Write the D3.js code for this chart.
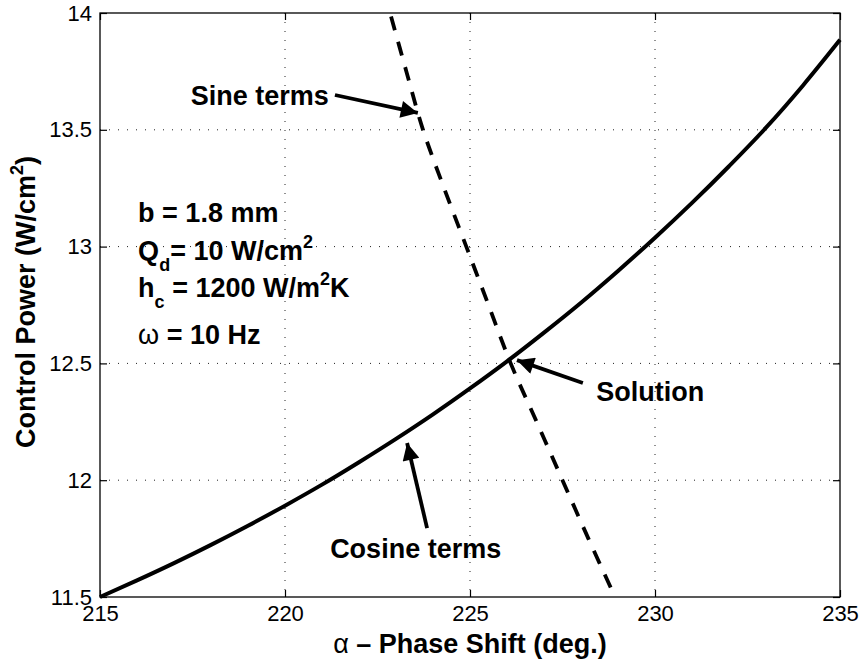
<!DOCTYPE html>
<html>
<head>
<meta charset="utf-8">
<script src="https://cdn.jsdelivr.net/npm/d3@7"></script>
<style>
body { margin: 0; background: #fff; }
text { font-family: "Liberation Sans", Arial, Helvetica, sans-serif; fill: #000; }
</style>
</head>
<body>
<div id="chart"></div>
<script>
// cosine-terms curve (solid)
const phase = [215, 216, 217, 218, 219, 220, 221, 222, 223, 224, 225, 226, 227, 228, 229, 230, 231, 232, 233, 234, 235];
const cosinePower = [11.500, 11.571, 11.645, 11.723, 11.805, 11.891, 11.981, 12.077, 12.177, 12.282, 12.393, 12.509, 12.632, 12.760, 12.896, 13.038, 13.187, 13.344, 13.509, 13.690, 13.885];

// sine-terms curve (dashed)
const sinePhase = [222.84, 223.28, 223.73, 224.30, 224.90, 225.50, 226.10, 226.80, 227.50, 228.20, 228.92];
const sinePower = [14.0, 13.75, 13.5, 13.25, 13.0, 12.75, 12.5, 12.25, 12.0, 11.75, 11.5];

const xTicks = [215, 220, 225, 230, 235];
const yTicks = [11.5, 12, 12.5, 13, 13.5, 14];

// annotations, in data units: [textX, textY, tailX, tailY, tipX, tipY]
const annoLabels = ["Sine terms", "Solution", "Cosine terms"];
const annoPos = [
  [217.45, 13.606, 221.35, 13.649, 223.59, 13.572],
  [228.41, 12.339, 228.05, 12.416, 226.27, 12.514],
  [221.22, 11.667, 223.84, 11.795, 223.30, 12.159]
];

const W = 863, H = 669;
const margin = {top: 13, right: 23, bottom: 72, left: 100};
const w = W - margin.left - margin.right;
const h = H - margin.top - margin.bottom;

const svg = d3.select("#chart").append("svg")
    .attr("width", W)
    .attr("height", H);
const g = svg.append("g")
    .attr("transform", `translate(${margin.left}, ${margin.top})`);

const x = d3.scaleLinear().domain([215, 235]).range([0, w]);
const y = d3.scaleLinear().domain([11.5, 14]).range([h, 0]);

// dotted grid
g.append("g").selectAll("line")
    .data(xTicks.slice(1, -1))
    .enter().append("line")
    .attr("x1", d => x(d)).attr("x2", d => x(d))
    .attr("y1", 0).attr("y2", h)
    .attr("stroke", "#222").attr("stroke-width", 1)
    .attr("stroke-dasharray", "1,8");
g.append("g").selectAll("line")
    .data(yTicks.slice(1, -1))
    .enter().append("line")
    .attr("y1", d => y(d)).attr("y2", d => y(d))
    .attr("x1", 0).attr("x2", w)
    .attr("stroke", "#222").attr("stroke-width", 1)
    .attr("stroke-dasharray", "1,8");

// curves
const cosLine = d3.line()
    .x((d, i) => x(phase[i]))
    .y(d => y(d))
    .curve(d3.curveMonotoneX);
g.append("path")
    .attr("d", cosLine(cosinePower))
    .attr("fill", "none")
    .attr("stroke", "#000")
    .attr("stroke-width", 4);

const sinLine = d3.line()
    .x((d, i) => x(sinePhase[i]))
    .y(d => y(d))
    .curve(d3.curveCatmullRom);
g.append("path")
    .attr("d", sinLine(sinePower))
    .attr("fill", "none")
    .attr("stroke", "#000")
    .attr("stroke-width", 3.8)
    .attr("stroke-dasharray", "14,12")
    .attr("stroke-dashoffset", -4);

// axes: inward ticks on all four sides
const fmt = d => String(d);
g.append("g")
    .attr("transform", `translate(0, ${h})`)
    .call(d3.axisBottom(x).tickValues(xTicks).tickFormat(fmt).tickSizeInner(-7).tickSizeOuter(0).tickPadding(8));
g.append("g")
    .call(d3.axisLeft(y).tickValues(yTicks).tickFormat(fmt).tickSizeInner(-7).tickSizeOuter(0).tickPadding(8));
g.append("g")
    .call(d3.axisTop(x).tickValues(xTicks).tickFormat("").tickSizeInner(-7).tickSizeOuter(0));
g.append("g")
    .attr("transform", `translate(${w}, 0)`)
    .call(d3.axisRight(y).tickValues(yTicks).tickFormat("").tickSizeInner(-7).tickSizeOuter(0));

g.selectAll(".domain").remove();
g.selectAll(".tick line").attr("stroke", "#000").attr("stroke-width", 1.2);
g.selectAll(".tick text")
    .style("font-size", "22px")
    .style("font-family", "'Liberation Sans', Arial, sans-serif")
    .attr("fill", "#000");

g.append("rect")
    .attr("x", 0).attr("y", 0)
    .attr("width", w).attr("height", h)
    .attr("fill", "none")
    .attr("stroke", "#000")
    .attr("stroke-width", 1.3);

// axis labels
svg.append("text")
    .attr("x", margin.left + w / 2)
    .attr("y", 653)
    .attr("text-anchor", "middle")
    .style("font-size", "27px")
    .style("font-weight", "bold")
    .call(t => {
        t.append("tspan").style("font-weight", "normal").text("\u03b1");
        t.append("tspan").text(" \u2013 Phase Shift (deg.)");
    });

svg.append("text")
    .attr("transform", `translate(35, 302) rotate(-90)`)
    .attr("text-anchor", "middle")
    .style("font-size", "27px")
    .style("font-weight", "bold")
    .call(t => {
        t.append("tspan").text("Control Power (W/cm");
        t.append("tspan").attr("dy", -12).style("font-size", "18px").text("2");
        t.append("tspan").attr("dy", 12).text(")");
    });

// arrows
const defs = svg.append("defs");
defs.append("marker")
    .attr("id", "head")
    .attr("viewBox", "0 0 10 10")
    .attr("refX", 10).attr("refY", 5)
    .attr("markerUnits", "userSpaceOnUse")
    .attr("markerWidth", 23).attr("markerHeight", 17)
    .attr("orient", "auto")
    .append("path")
    .attr("d", "M0,0 L10,5 L0,10 Z")
    .attr("fill", "#000");

annoPos.forEach((p, i) => {
    g.append("line")
        .attr("x1", x(p[2])).attr("y1", y(p[3]))
        .attr("x2", x(p[4])).attr("y2", y(p[5]))
        .attr("stroke", "#000")
        .attr("stroke-width", 3.8)
        .attr("marker-end", "url(#head)");
    g.append("text")
        .attr("x", x(p[0])).attr("y", y(p[1]))
        .style("font-size", "27px")
        .style("font-weight", "bold")
        .text(annoLabels[i]);
});

// parameter block
const paramX = 216.03;
const paramY = [13.105, 12.942, 12.783, 12.582];
const block = g.append("g").style("font-size", "27px").style("font-weight", "bold");

block.append("text").attr("x", x(paramX)).attr("y", y(paramY[0])).text("b = 1.8 mm");

block.append("text").attr("x", x(paramX)).attr("y", y(paramY[1]))
    .call(t => {
        t.append("tspan").text("Q");
        t.append("tspan").attr("dy", 11).style("font-size", "18px").text("d");
        t.append("tspan").attr("dy", -11).text("= 10 W/cm");
        t.append("tspan").attr("dy", -12).style("font-size", "18px").text("2");
    });

block.append("text").attr("x", x(paramX)).attr("y", y(paramY[2]))
    .call(t => {
        t.append("tspan").text("h");
        t.append("tspan").attr("dy", 11).style("font-size", "18px").text("c");
        t.append("tspan").attr("dy", -11).text(" = 1200 W/m");
        t.append("tspan").attr("dy", -12).style("font-size", "18px").text("2");
        t.append("tspan").attr("dy", 12).text("K");
    });

block.append("text").attr("x", x(paramX)).attr("y", y(paramY[3]))
    .call(t => {
        t.append("tspan").style("font-weight", "normal").text("\u03c9");
        t.append("tspan").text(" = 10 Hz");
    });
</script>
</body>
</html>
